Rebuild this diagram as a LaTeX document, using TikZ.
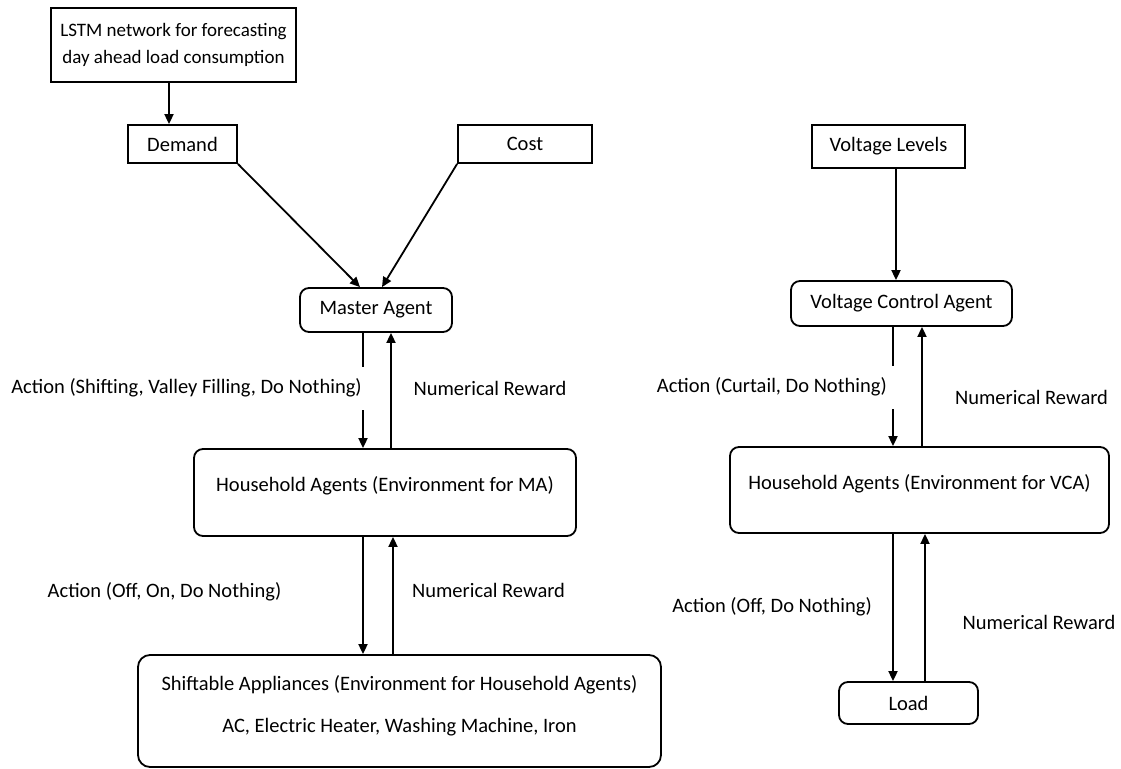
\documentclass[tikz,border=0pt]{standalone}
\usepackage{fontspec}
\setmainfont{Carlito}
\usetikzlibrary{arrows.meta}

\tikzset{
  every node/.style={font=\fontsize{20.5}{24}\selectfont, inner sep=0pt},
  box/.style={draw, line width=1.8pt, align=center},
  rbox/.style={box, rounded corners=9pt},
  arr/.style={line width=1.8pt, -{Triangle[length=10pt,width=9pt]}},
  gaplbl/.style={fill=white, inner xsep=5pt, minimum height=43pt, anchor=east},
}

\begin{document}
\begin{tikzpicture}[x=1pt, y=-1pt]
\useasboundingbox (0,0) rectangle (1121,768);

% left branch: forecasting and inputs
\node[box, minimum width=245pt, minimum height=74pt, font=\fontsize{19}{23}\selectfont] (lstm) at (173.5,45)
  {LSTM network for forecasting\\[4pt]day ahead load consumption};
\node[box, minimum width=109pt, minimum height=38pt] (demand) at (182.5,144) {Demand};
\node[box, minimum width=134pt, minimum height=38pt] (cost) at (525,144) {Cost};

% left branch: agents and environments
\node[rbox, minimum width=152pt, minimum height=44pt] (master) at (376,310) {Master Agent};
\node[rbox, minimum width=382pt, minimum height=87pt, text height=14pt, text depth=16pt] (hhma) at (385,492.5)
  {Household Agents (Environment for MA)};
\node[rbox, minimum width=523pt, minimum height=112pt, rounded corners=12pt, text depth=15pt] (shift) at (399.5,711)
  {Shiftable Appliances (Environment for Household Agents)\\[18pt]AC, Electric Heater, Washing Machine, Iron};

% right branch
\node[box, minimum width=153pt, minimum height=43pt] (vlev) at (888.5,146.5) {Voltage Levels};
\node[rbox, minimum width=221pt, minimum height=45pt] (vca) at (901.5,303.5) {Voltage Control Agent};
\node[rbox, minimum width=379pt, minimum height=86pt, text height=14pt, text depth=15pt] (hhvca) at (919.5,490)
  {Household Agents (Environment for VCA)};
\node[rbox, minimum width=139pt, minimum height=42pt] (load) at (908.5,703) {Load};

% input connectors
\draw[arr] ([xshift=-4.5pt]lstm.south) -- ([xshift=-4.5pt]lstm.south |- demand.north);
\draw[arr] (demand.south east) -- ([xshift=-16pt]master.north);
\draw[arr] (cost.south west) -- ([xshift=6pt]master.north);
\draw[arr] ([xshift=7.5pt]vlev.south) -- ([xshift=7.5pt]vlev.south |- vca.north);

% master agent <-> household agents
\draw[arr] ([xshift=-13pt]master.south) -- ([xshift=-13pt]master.south |- hhma.north);
\draw[arr] ([xshift=15pt]master.south |- hhma.north) -- ([xshift=15pt]master.south);
\node[gaplbl] (maact) at (367,388) {Action (Shifting, Valley Filling, Do Nothing)};
\node (marew) at (490,388) {Numerical Reward};

% household agents <-> shiftable appliances
\draw[arr] ([xshift=-22pt]hhma.south) -- ([xshift=-22pt]hhma.south |- shift.north);
\draw[arr] ([xshift=8pt]hhma.south |- shift.north) -- ([xshift=8pt]hhma.south);
\node (hhact) at (164.5,592) {Action (Off, On, Do Nothing)};
\node (hhrew) at (488.5,590) {Numerical Reward};

% voltage control agent <-> household agents
\draw[arr] ([xshift=-8.5pt]vca.south) -- ([xshift=-8.5pt]vca.south |- hhvca.north);
\draw[arr] ([xshift=20.5pt]vca.south |- hhvca.north) -- ([xshift=20.5pt]vca.south);
\node[gaplbl, inner xsep=10pt] (vcaact) at (897,387) {Action (Curtail, Do Nothing)};
\node (vcarew) at (1031.5,397) {Numerical Reward};

% household agents <-> load
\draw[arr] ([xshift=-26.5pt]hhvca.south) -- ([xshift=-26.5pt]hhvca.south |- load.north);
\draw[arr] ([xshift=5.5pt]hhvca.south |- load.north) -- ([xshift=5.5pt]hhvca.south);
\node[anchor=east] (ldact) at (872,607) {Action (Off, Do Nothing)};
\node (ldrew) at (1039,622) {Numerical Reward};
\end{tikzpicture}
\end{document}
